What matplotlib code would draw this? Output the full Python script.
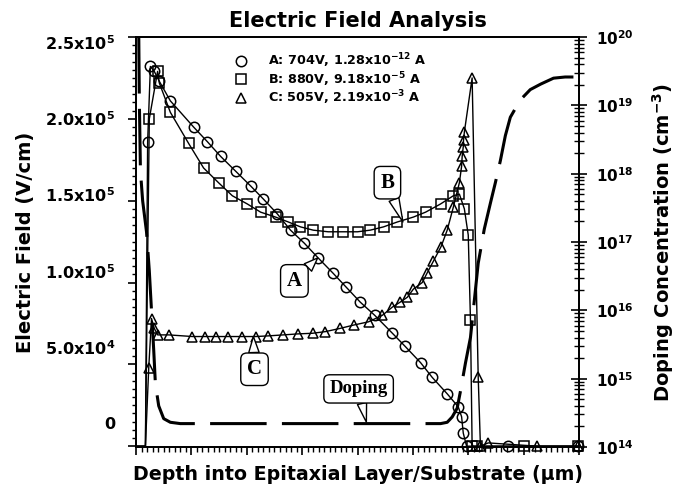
import numpy as np
import matplotlib
matplotlib.use("Agg")
import matplotlib.pyplot as plt
from matplotlib.lines import Line2D
from matplotlib.ticker import MultipleLocator, FixedLocator, FuncFormatter, LogLocator, NullFormatter

plt.rcParams['font.family'] = ['DejaVu Sans']
plt.rcParams['font.weight'] = 'bold'
plt.rcParams['mathtext.fontset'] = 'custom'
plt.rcParams['mathtext.rm'] = 'DejaVu Sans:bold'
plt.rcParams['mathtext.bf'] = 'DejaVu Sans:bold'
plt.rcParams['mathtext.it'] = 'DejaVu Sans:bold'
plt.rcParams['mathtext.default'] = 'bf'

# depth (um) and electric field (V/cm)
xA = [0.01, 0.17, 0.21, 0.26, 0.33, 0.42, 0.62, 1.04, 1.29, 1.53, 1.80, 2.07, 2.30, 2.55,
      2.79, 3.04, 3.29, 3.55, 3.80, 4.05, 4.31, 4.63, 4.86, 5.14, 5.35, 5.62, 5.82, 5.88,
      5.91, 5.97, 6.72, 7.99]
eA = [0, 0, 1.86e5, 2.32e5, 2.29e5, 2.23e5, 2.11e5, 1.95e5, 1.86e5, 1.77e5, 1.68e5, 1.59e5,
      1.51e5, 1.42e5, 1.32e5, 1.24e5, 1.15e5, 1.06e5, 0.97e5, 0.88e5, 0.80e5, 0.69e5, 0.61e5,
      0.51e5, 0.42e5, 0.32e5, 0.24e5, 0.18e5, 0.08e5, 0, 0, 0]

xB = [0.01, 0.17, 0.24, 0.39, 0.42, 0.62, 0.95, 1.22, 1.49, 1.74, 2.01, 2.25, 2.52, 2.75,
      2.97, 3.20, 3.47, 3.73, 4.00, 4.23, 4.47, 4.72, 5.01, 5.23, 5.50, 5.73, 5.84, 5.93,
      6.00, 6.04, 6.07, 6.15, 7.00, 7.99]
eB = [0, 0, 2.00e5, 2.29e5, 2.22e5, 2.04e5, 1.85e5, 1.70e5, 1.61e5, 1.53e5, 1.48e5, 1.43e5,
      1.40e5, 1.37e5, 1.34e5, 1.32e5, 1.31e5, 1.31e5, 1.31e5, 1.32e5, 1.34e5, 1.37e5, 1.40e5,
      1.43e5, 1.48e5, 1.53e5, 1.54e5, 1.45e5, 1.29e5, 0.77e5, 0, 0, 0, 0]

xC = [0.01, 0.17, 0.23, 0.28, 0.33, 0.39, 0.59, 1.02, 1.25, 1.44, 1.67, 1.92, 2.16, 2.39,
      2.66, 2.92, 3.19, 3.42, 3.69, 3.93, 4.20, 4.45, 4.63, 4.77, 4.90, 5.01, 5.17, 5.26,
      5.37, 5.51, 5.62, 5.73, 5.84, 5.88, 5.89, 5.91, 5.915, 5.93, 6.07, 6.18, 6.22, 6.36,
      7.25, 7.99]
eC = [0, 0, 0.48e5, 0.78e5, 0.72e5, 0.68e5, 0.68e5, 0.67e5, 0.67e5, 0.67e5, 0.67e5, 0.67e5,
      0.67e5, 0.674e5, 0.68e5, 0.686e5, 0.69e5, 0.70e5, 0.72e5, 0.74e5, 0.76e5, 0.80e5,
      0.85e5, 0.88e5, 0.91e5, 0.96e5, 1.00e5, 1.06e5, 1.13e5, 1.22e5, 1.32e5, 1.46e5,
      1.61e5, 1.71e5, 1.77e5, 1.83e5, 1.87e5, 1.92e5, 2.25e5, 0.42e5, 0, 0.02e5, 0, 0]

# doping profile (cm^-3)
xD = [0.05, 0.06, 0.08, 0.12, 0.19, 0.24, 0.28, 0.32, 0.35, 0.41, 0.50, 0.62, 0.80, 5.50,
      5.62, 5.71, 5.80, 5.86, 5.95, 6.04, 6.11, 6.18, 6.29, 6.40, 6.49, 6.58, 6.67, 6.76,
      6.94, 7.12, 7.31, 7.54, 7.75, 7.99]
nD = [1.0e20, 1.2e19, 1.1e18, 4.0e17, 1.4e17, 3.8e16, 9.8e15, 2.6e15, 8.4e14, 4.0e14,
      2.6e14, 2.3e14, 2.2e14, 2.2e14, 2.3e14, 2.75e14, 3.7e14, 6.6e14, 1.7e15, 4.0e15,
      1.4e16, 4.9e16, 1.55e17, 3.7e17, 7.4e17, 1.55e18, 3.6e18, 6.7e18, 1.2e19, 1.7e19,
      2.05e19, 2.5e19, 2.6e19, 2.6e19]

labels = ["A: 704V, 1.28x10$^{-12}$ A", "B: 880V, 9.18x10$^{-5}$ A", "C: 505V, 2.19x10$^{-3}$ A"]
e_ticks = [0, 5e4, 1e5, 1.5e5, 2e5, 2.5e5]
e_ticklabels = ["0", "5.0x10$^4$", "1.0x10$^5$", "1.5x10$^5$", "2.0x10$^5$", "2.5x10$^5$"]

fig = plt.figure(figsize=(6.76, 4.93), dpi=100)
ax = fig.add_axes([0.2012, 0.0933, 0.6553, 0.8316])
ax2 = ax.twinx()

mk = dict(mfc='none', mec='black', mew=1.1, ms=7.5, color='black', lw=1.0, clip_on=False)
ax.plot(xA, eA, marker='o', markevery=slice(2, None), **mk)
ax.plot(xB, eB, marker='s', markevery=slice(2, None), **{**mk, 'ms': 7})
ax.plot(xC, eC, marker='^', markevery=slice(2, None), **mk)

ax2.plot(xD, nD, color='black', lw=2.2, ls=(0, (18.5, 5)), solid_capstyle='butt')
ax2.set_yscale('log')
ax2.set_ylim(1e14, 1e20)

ax.set_xlim(0, 8)
ax.set_ylim(-500, 2.5e5)

for s in ax.spines.values():
    s.set_linewidth(1.3)
for s in ax2.spines.values():
    s.set_linewidth(1.3)

ax.xaxis.set_major_locator(MultipleLocator(1))
ax.xaxis.set_minor_locator(MultipleLocator(0.1))
ax.tick_params(axis='x', which='major', direction='out', length=6, width=1.2, labelbottom=False)
ax.tick_params(axis='x', which='minor', direction='out', length=3.5, width=1.0)
ax.yaxis.set_major_locator(FixedLocator(e_ticks))
ax.yaxis.set_minor_locator(MultipleLocator(5000))
ax.tick_params(axis='y', which='major', direction='out', length=6, width=1.2, labelleft=False)
ax.tick_params(axis='y', which='minor', direction='out', length=3, width=1.0)

# tick labels of the field axis sit on their own (slightly shifted) scale
sec = ax.secondary_yaxis('left', functions=(lambda t: 1.0738 * t - 15132,
                                            lambda v: (v + 15132) / 1.0738))
sec.set_yticks(e_ticks)
sec.set_yticklabels(e_ticklabels)
sec.tick_params(axis='y', length=0, pad=15, labelsize=11.5)
sec.yaxis.set_minor_locator(FixedLocator([]))
sec.spines['left'].set_visible(False)

ax2.yaxis.set_major_locator(LogLocator(base=10, numticks=10))
ax2.yaxis.set_minor_locator(LogLocator(base=10, subs=np.arange(2, 10), numticks=10))
ax2.yaxis.set_minor_formatter(NullFormatter())
ax2.yaxis.set_major_formatter(FuncFormatter(lambda v, p: "10$^{%d}$" % round(np.log10(v))))
ax2.tick_params(axis='y', which='major', direction='inout', length=12, width=1.2, pad=6, labelsize=11)
ax2.tick_params(axis='y', which='minor', direction='inout', length=7, width=1.0)

# no offset texts anywhere
for a in (ax, ax2, sec):
    a.xaxis.get_offset_text().set_visible(False)
    a.yaxis.get_offset_text().set_visible(False)

ax.set_title("Electric Field Analysis", fontsize=15, fontweight='bold', pad=7)
ax.set_xlabel("Depth into Epitaxial Layer/Substrate (μm)", fontsize=13.7, fontweight='bold', labelpad=6)
ax.set_ylabel("Electric Field (V/cm)", fontsize=14, fontweight='bold')
ax.yaxis.set_label_coords(-0.228, 0.5)
ax2.set_ylabel("Doping Concentration (cm$^{-3}$)", fontsize=14, fontweight='bold')
ax2.yaxis.set_label_coords(1.16, 0.5)

handles = [Line2D([], [], marker=m, ls='none', mfc='none', mec='black', mew=1.1, ms=7.5)
           for m in ['o', 's', '^']]
ax.legend(handles, labels, loc='upper left', bbox_to_anchor=(0.222, 0.965), frameon=False,
          fontsize=9.2, handlelength=1.0, handletextpad=1.6, labelspacing=0.0, borderaxespad=0,
          borderpad=0)

box = dict(boxstyle='round,pad=0.3', fc='white', ec='black', lw=1.0)
arrow = dict(arrowstyle='wedge,tail_width=0.5', fc='white', ec='black', lw=1.0,
             shrinkA=0, shrinkB=0)
serif = dict(fontfamily='Liberation Serif', fontweight='bold', ha='center', va='center')
ax.annotate("A", xy=(3.28, 1.15e5), xytext=(2.86, 1.01e5), fontsize=15, bbox=box,
            arrowprops=arrow, **serif)
ax.annotate("B", xy=(4.82, 1.37e5), xytext=(4.54, 1.61e5), fontsize=15, bbox=box,
            arrowprops=arrow, **serif)
ax.annotate("C", xy=(2.12, 0.67e5), xytext=(2.14, 0.47e5), fontsize=15, bbox=box,
            arrowprops=arrow, **serif)
ax.annotate("Doping", xy=(4.16, 1.47e4), xytext=(4.02, 3.5e4), fontsize=13.5,
            bbox=dict(boxstyle='round,pad=0.3', fc='white', ec='black', lw=1.0),
            arrowprops=arrow, **serif)

fig.savefig("out.png", dpi=100)
